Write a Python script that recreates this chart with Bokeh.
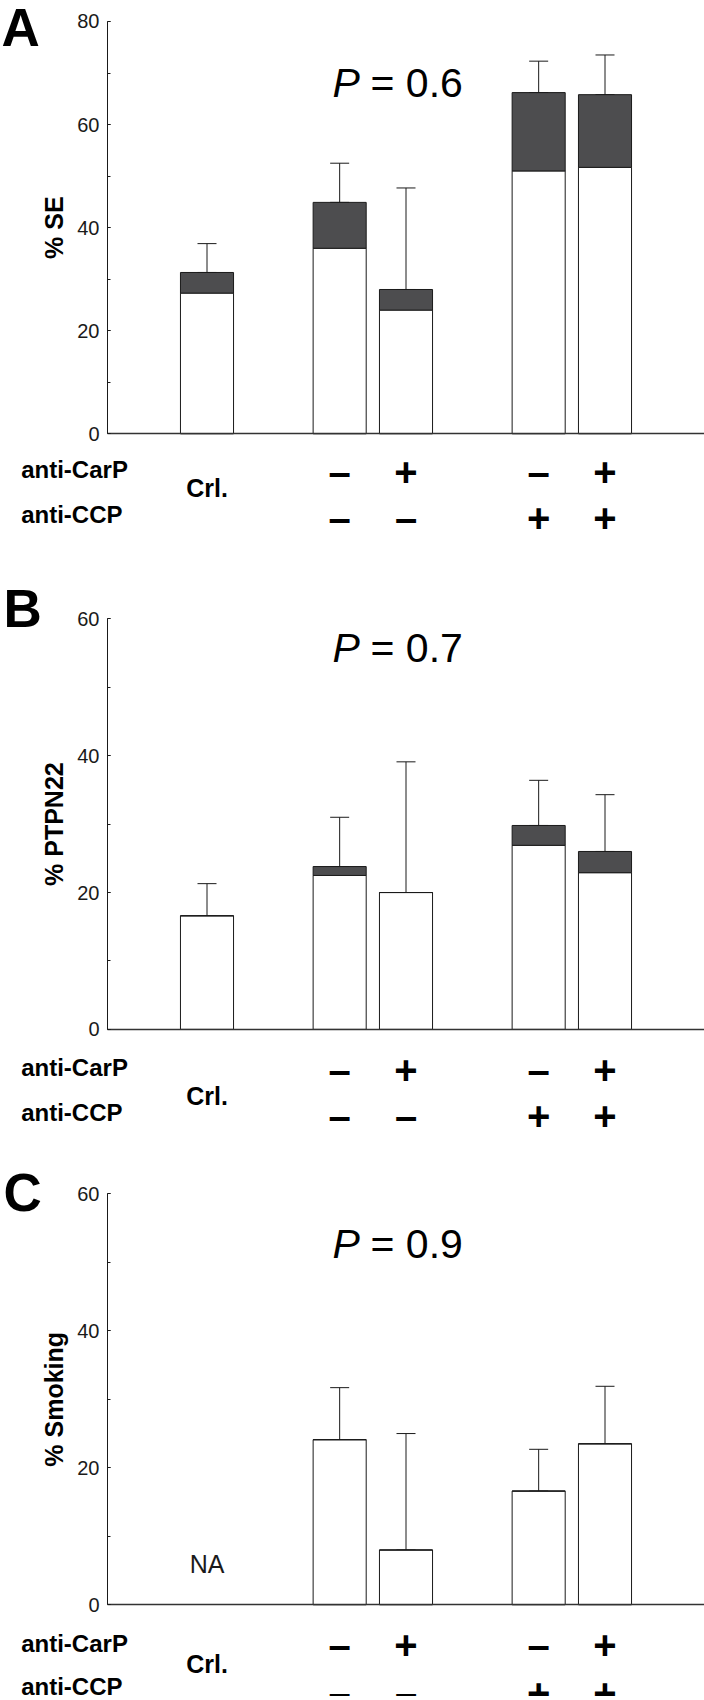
import math
from bokeh.plotting import figure
from bokeh.models import (Range1d, LinearAxis, SingleIntervalTicker, FixedTicker,
                          Whisker, TeeHead, Label, ColumnDataSource)
from bokeh.layouts import column
from bokeh.core.properties import value
from bokeh.embed import file_html
from bokeh.resources import INLINE

# ---------------- data ----------------
groups = ["Crl.", "CarP-/CCP-", "CarP+/CCP-", "CarP-/CCP+", "CarP+/CCP+"]
group_sizes = [1, 2, 2]
control_label = "Crl."
carp_signs = ["", "\u2013", "+", "\u2013", "+"]
ccp_signs = ["", "\u2013", "\u2013", "+", "+"]

se_white = [27.3, 36.0, 24.0, 51.0, 51.7]
se_total = [31.3, 44.9, 28.0, 66.2, 65.8]
se_err = [36.9, 52.5, 47.7, 72.3, 73.5]

ptpn_white = [16.6, 22.5, 20.0, 26.9, 22.9]
ptpn_total = [16.6, 23.8, 20.0, 29.8, 26.0]
ptpn_err = [21.3, 31.0, 39.1, 36.4, 34.3]

smoke_white = [None, 24.1, 8.0, 16.6, 23.5]
smoke_err = [None, 31.7, 25.0, 22.7, 31.9]

p_values = ["0.6", "0.7", "0.9"]
y_titles = ["% SE", "% PTPN22", "% Smoking"]
y_max = [80, 60, 60]
letters = ["A", "B", "C"]

# ---------------- layout ----------------
FONT = "Liberation Sans"
FIG_W = 704
AXIS_X = 107
N_SLOTS = 9
SLOT = (FIG_W - AXIS_X) / N_SLOTS
DARK = "#4d4d4f"
INK = "#1a1a1a"


def slot_positions():
    pos, s = [], 1.5
    for gs in group_sizes:
        for _ in range(gs):
            pos.append(s)
            s += 1
        s += 1
    return pos


X = slot_positions()


def px_x(page_x):
    return (page_x - AXIS_X) / SLOT


def make_panel(idx, white, total, err, geom):
    h, zero, s = geom["h"], geom["zero"], geom["s"]
    ymax = y_max[idx]
    y_end = zero / s
    y_start = -(h - zero) / s
    p = figure(width=FIG_W, height=h, x_range=Range1d(-AXIS_X / SLOT, N_SLOTS),
               y_range=Range1d(y_start, y_end), x_axis_type=None, y_axis_type=None,
               toolbar_location=None, output_backend="svg",
               min_border_left=0, min_border_right=0, min_border_top=0,
               min_border_bottom=0)
    p.outline_line_color = None
    p.background_fill_color = "white"
    p.border_fill_color = "white"

    ax = LinearAxis(ticker=SingleIntervalTicker(interval=20, num_minor_ticks=2),
                    bounds=(0, ymax), fixed_location=0)
    ax.major_tick_in = 3
    ax.major_tick_out = 0
    ax.minor_tick_in = 3
    ax.minor_tick_out = 0
    ax.major_label_standoff = 8
    ax.major_label_text_font = FONT
    ax.major_label_text_font_size = "20px"
    ax.major_label_text_color = INK
    ax.axis_line_color = INK
    ax.major_tick_line_color = INK
    ax.minor_tick_line_color = INK
    p.add_layout(ax, "left")

    xax = LinearAxis(ticker=FixedTicker(ticks=[]), bounds=(0, N_SLOTS), fixed_location=0)
    xax.major_tick_line_color = None
    xax.minor_tick_line_color = None
    xax.major_label_text_font_size = "0px"
    xax.axis_line_color = "#333333"
    xax.axis_line_width = 1.3
    p.add_layout(xax, "below")

    rows = [(x, w, t, e) for x, w, t, e in zip(X, white, total, err) if w is not None]
    src = ColumnDataSource(dict(x=[r[0] for r in rows], white=[r[1] for r in rows],
                                total=[r[2] for r in rows], err=[r[3] for r in rows]))
    p.vbar(x="x", width=0.8, bottom=0, top="white", source=src, fill_color="white",
           line_color=INK, line_width=1)
    p.vbar(x="x", width=0.8, bottom="white", top="total", source=src, fill_color=DARK,
           line_color=INK, line_width=1)
    p.add_layout(Whisker(source=src, base="x", lower="total", upper="err",
                         line_color=INK, line_width=1,
                         upper_head=TeeHead(size=19, line_color=INK, line_width=1),
                         lower_head=TeeHead(size=19, line_color=INK, line_width=1)))

    # sign rows (centres given in px below the zero line)
    sign_src = ColumnDataSource(dict(
        x=X + X, y=[-geom["sign1"] / s] * len(X) + [-geom["sign2"] / s] * len(X),
        t=carp_signs + ccp_signs))
    p.text(x="x", y="y", text="t", source=sign_src, text_font=value(FONT),
           text_font_size="40px", text_font_style="bold", text_align="center",
           text_baseline="middle", text_color="black")
    p.text(x=[X[0]], y=[-geom["crl"] / s], text=[control_label], text_font=value(FONT),
           text_font_size="25px", text_font_style="bold", text_align="center",
           text_baseline="middle", text_color="black")

    for name, off in (("anti-CarP", geom["carp"]), ("anti-CCP", geom["ccp"])):
        p.add_layout(Label(x=px_x(20.7), y=-off / s, text=name, text_font=FONT,
                           text_font_size="24px", text_font_style="bold",
                           text_align="left", text_baseline="middle",
                           text_color="black"))

    # panel letter
    p.add_layout(Label(x=px_x(geom["letter_x"]), y=(zero - geom["letter"]) / s,
                       text=letters[idx], text_font=FONT, text_font_size="53px",
                       text_font_style="bold", text_align="left",
                       text_baseline="middle", text_color="black"))
    # y title
    p.add_layout(Label(x=px_x(53), y=ymax / 2, text=y_titles[idx], angle=math.pi / 2,
                       text_font=FONT, text_font_size="25px", text_font_style="bold",
                       text_align="center", text_baseline="middle",
                       text_color="black"))
    # P value
    py = geom["p"] / s
    p.add_layout(Label(x=px_x(332), y=py, text="P", text_font=FONT,
                       text_font_size="41px", text_font_style="italic",
                       text_align="left", text_baseline="middle", text_color="black"))
    p.add_layout(Label(x=px_x(370), y=py, text="= " + p_values[idx], text_font=FONT,
                       text_font_size="41px", text_align="left",
                       text_baseline="middle", text_color="black"))
    if white[0] is None:
        p.text(x=[X[0]], y=[geom["na"] / s], text=["NA"], text_font=value(FONT),
               text_font_size="25px", text_align="center", text_baseline="middle",
               text_color=INK)
    return p


# vertical geometry: px from each figure's top (zero line, letter centre);
# other offsets are px of text centres relative to the zero line
geomA = dict(h=560, zero=433.3, s=5.154, letter=26.5, letter_x=1, carp=35.7, crl=53.7,
             ccp=80.2, sign1=38.4, sign2=83.7, p=350.8)
geomB = dict(h=580, zero=468.9, s=6.843, letter=47.5, letter_x=3, carp=37.7, crl=66.1,
             ccp=83.1, sign1=40.1, sign2=86.8, p=381.4)
geomC = dict(h=556, zero=464.3, s=6.85, letter=52, letter_x=3, carp=38.7, crl=59.1,
             ccp=81.7, sign1=40.2, sign2=87.7, p=360.7, na=40.8)

pA = make_panel(0, se_white, se_total, se_err, geomA)
pB = make_panel(1, ptpn_white, ptpn_total, ptpn_err, geomB)
pC = make_panel(2, smoke_white, smoke_white, smoke_err, geomC)

layout = column(pA, pB, pC, spacing=0)
open("out.html", "w").write(file_html(layout, INLINE))
